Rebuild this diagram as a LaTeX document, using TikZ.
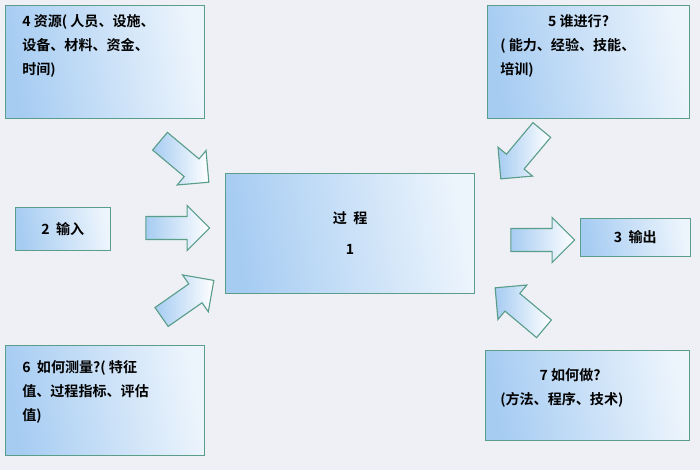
\documentclass[tikz,border=0pt]{standalone}
\usepackage{fontspec}
\usepackage{tikz}
\usetikzlibrary{shapes.arrows}
\newfontfamily\cjk{Noto Sans CJK SC}[BoldFont={Noto Sans CJK SC Bold}]
\definecolor{bgc}{HTML}{EEF0F5}
\definecolor{edgec}{HTML}{5A9E8A}
\definecolor{bluec}{HTML}{A6CCF2}
\def\pxu{0.7087pt}
\begin{document}
\begin{tikzpicture}%
        [x=0.025cm, y=-0.025cm,
        infobox/.style={draw=edgec, thick, left color=bluec, right color=bluec!20!white,
                shading angle=100, inner sep=0pt},
        boxtext/.style={font=\cjk\bfseries\fontsize{10pt}{17pt}\selectfont, align=left,
                anchor=north west, inner sep=0pt},
        flowarrow/.style={single arrow, draw=edgec, thick, left color=bluec, right color=white,
                inner xsep=0pt, inner ysep=11*\pxu, single arrow head extend=11*\pxu,
                minimum height=64*\pxu}]

    %% Background
    \fill[bgc] (0,0) rectangle (700,470);
    \useasboundingbox (0,0) rectangle (700,470);

    %% Boxes
    \node[infobox, minimum width=200*\pxu, minimum height=113*\pxu, anchor=north west] (res) at (5,5) {};
    \node[boxtext] (restext) at (22,14) {4 资源( 人员、设施、\\设备、材料、资金、\\时间)};
    \node[infobox, minimum width=203*\pxu, minimum height=113*\pxu, anchor=north west] (who) at (487,5) {};
    \node[boxtext] (whotext) at (500,14) {\hspace*{34pt}5 谁进行?\\( 能力、经验、技能、\\培训)};
    \node[infobox, minimum width=95*\pxu, minimum height=43*\pxu, anchor=north west,
          font=\cjk\bfseries\fontsize{10pt}{12pt}\selectfont] (in) at (15,207) {2 \ 输入};
    \node[infobox, minimum width=110*\pxu, minimum height=38*\pxu, anchor=north west,
          font=\cjk\bfseries\fontsize{10pt}{12pt}\selectfont] (out) at (580,218) {3 \ 输出};
    \node[infobox, minimum width=250*\pxu, minimum height=120*\pxu, anchor=north west,
          align=center, font=\cjk\bfseries\fontsize{10pt}{12pt}\selectfont] (proc) at (225,173)
          {过\ \ 程\\[10pt]1};
    \node[infobox, minimum width=200*\pxu, minimum height=110*\pxu, anchor=north west] (meas) at (5,345) {};
    \node[boxtext] (meastext) at (22,360) {6 \ 如何测量?( 特征\\值、过程指标、评估\\值)};
    \node[infobox, minimum width=205*\pxu, minimum height=90*\pxu, anchor=north west] (how) at (485,350) {};
    \node[boxtext] (howtext) at (500,368) {\hspace*{28pt}7 如何做?\\(方法、程序、技术)};

    %% Arrows
    \node[flowarrow] (a1) at (180,158) [rotate=-40] {};
    \node[flowarrow] (a2) at (172,228) {};
    \node[flowarrow] (a3) at (183,302) [rotate=35] {};
    \node[flowarrow] (a4) at (525,150) [rotate=-130] {};
    \node[flowarrow] (a5) at (537,240) {};
    \node[flowarrow] (a6) at (524,312) [rotate=140] {};
\end{tikzpicture}
\end{document}
